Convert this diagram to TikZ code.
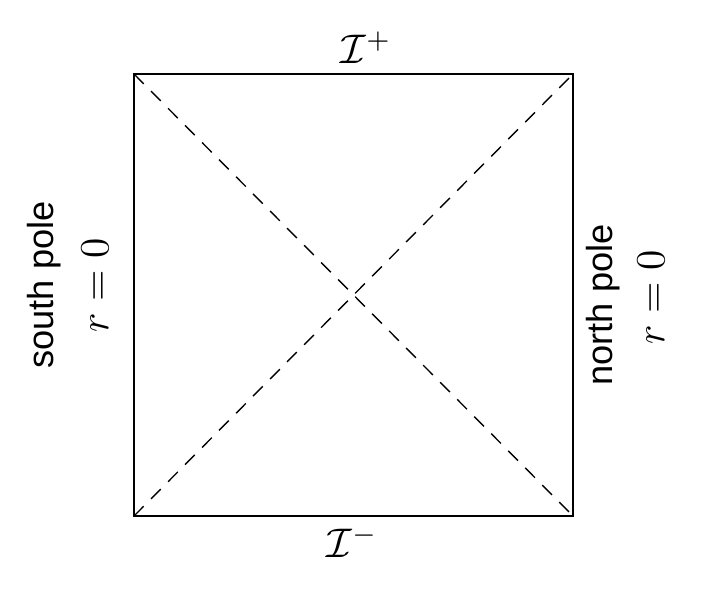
\documentclass[tikz,border=0pt]{standalone}
\usepackage{fontspec}
\newfontfamily\polefont{Liberation Sans}
\tikzset{
    pole label/.style={rotate=90,font=\polefont\fontsize{10.5}{12}\selectfont,inner sep=0pt},
    radius label/.style={rotate=90,font=\fontsize{12.5}{14}\selectfont,inner sep=0pt},
    scri label/.style={font=\fontsize{12}{14}\selectfont,inner sep=0pt},
}
\begin{document}
\begin{tikzpicture}[x=0.29pt,y=-0.29pt]
\useasboundingbox (0,0) rectangle (712,588);
\coordinate (nw) at (134,74);
\coordinate (ne) at (573,74);
\coordinate (se) at (573,516);
\coordinate (sw) at (134,516);
\draw[line width=0.6pt] (nw) -- (ne) -- (se) -- (sw) -- cycle;
\draw[dash pattern=on 4pt off 3pt,line width=0.4pt] (nw) -- (se);
\draw[dash pattern=on 4pt off 3pt,line width=0.4pt] (sw) -- (ne);
\node[scri label] (scriplus) at (366,48) {$\mathcal{I}^+$};
\node[scri label] (scriminus) at (352,542) {$\mathcal{I}^-$};
\node[pole label] (south) at (44,285) {south pole};
\node[radius label] (southr) at (95,285) {$r=0$};
\node[pole label] (north) at (603,305) {north pole};
\node[radius label] (northr) at (651,297) {$r=0$};
\end{tikzpicture}
\end{document}
